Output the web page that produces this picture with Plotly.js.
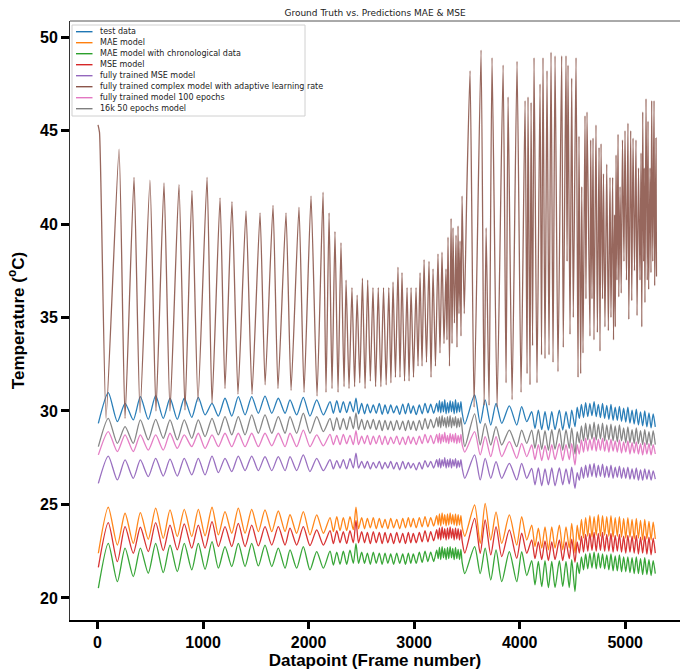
<!DOCTYPE html>
<html>
<head>
<meta charset="utf-8">
<script src="https://cdn.plot.ly/plotly-3.0.1.min.js"></script>
<style>html,body{margin:0;padding:0;background:#fff;}#chart{width:680px;height:670px;}</style>
</head>
<body>
<div id="chart"></div>
<script>
// ---- data ----
const seriesNames = ["test data", "MAE model", "MAE model with chronological data", "MSE model",
  "fully trained MSE model", "fully trained complex model with adaptive learning rate",
  "fully trained model 100 epochs", "16k 50 epochs model"];
const seriesColors = ["#1f77b4", "#ff7f0e", "#2ca02c", "#d62728", "#9467bd", "#8c564b", "#e377c2", "#7f7f7f"];
const xTicks = [0, 1000, 2000, 3000, 4000, 5000];
const yTicks = [20, 25, 30, 35, 40, 45, 50];

// datapoint positions of the key samples shared by the truth-like series
const xTruth = [8, 102, 188, 261, 339, 406, 481, 551, 623, 687, 756, 822, 893, 955, 1019, 1085, 1145, 1208, 1272, 1334, 1398, 1461, 1524, 1587, 1651, 1713, 1777, 1824, 1887, 1950, 2013, 2077, 2140,
  2203, 2235, 2267, 2298, 2329, 2361, 2392, 2424, 2449, 2473, 2503, 2530, 2557, 2585, 2613, 2641, 2670, 2697, 2724, 2751, 2778, 2806, 2835, 2863, 2892, 2918, 2945, 2968, 2992, 3020, 3049, 3076, 3103, 3130, 3157, 3185, 3214,
  3228, 3240, 3252, 3265, 3278, 3290, 3303, 3316, 3328, 3341, 3354, 3366, 3379, 3392, 3404, 3417, 3430, 3443, 3455,
  3480, 3573, 3626, 3673, 3726, 3776, 3830, 3902, 3972, 4019, 4067,
  4114, 4145, 4177, 4209, 4240, 4272, 4304, 4335, 4376, 4408, 4439, 4470, 4493, 4524,
  4545, 4565, 4585, 4605, 4625, 4645, 4665, 4685, 4705, 4725, 4745, 4765, 4785, 4805, 4825, 4845, 4865, 4885, 4905, 4925, 4945, 4965, 4985, 5005, 5025, 5045, 5065, 5085, 5105, 5125, 5145, 5165, 5185, 5205, 5225, 5245, 5265, 5285];

const testData = [29.34, 30.98, 29.43, 30.41, 29.52, 30.77, 29.55, 30.82, 29.6, 30.68, 29.55, 30.68, 29.66, 30.73, 29.79, 30.41, 29.73, 30.68, 29.73, 30.77, 29.79, 30.77, 29.88, 30.8, 29.88, 30.68, 29.88, 30.59, 29.79, 30.73, 29.73, 30.59, 29.79,
  30.5, 29.88, 30.55, 29.91, 30.5, 29.91, 30.5, 29.96, 30.68, 29.85, 30.41, 29.85, 30.37, 29.9, 30.32, 29.88, 30.41, 29.82, 30.32, 29.85, 30.32, 29.9, 30.27, 29.82, 30.37, 29.85, 30.41, 29.88, 30.27, 29.8, 30.32, 29.85, 30.41, 29.9, 30.37, 29.88, 30.41,
  29.95, 30.55, 29.9, 30.5, 29.95, 30.6, 29.85, 30.45, 29.9, 30.55, 29.95, 30.5, 29.85, 30.6, 29.9, 30.45, 29.95, 30.5, 29.9,
  29.3, 30.86, 29.34, 30.59, 29.25, 30.41, 29.34, 30.27, 29.25, 30.23, 29.43,
  29.96, 29.07, 30.05, 29.0, 29.96, 28.98, 29.96, 29.0, 30.05, 28.98, 29.96, 29.07, 30.05, 29.16,
  30.2, 29.6, 30.35, 29.65, 30.45, 29.7, 30.4, 29.75, 30.5, 29.7, 30.35, 29.65, 30.4, 29.6, 30.3, 29.55, 30.35, 29.5, 30.2, 29.5, 30.25, 29.45, 30.15, 29.4, 30.2, 29.35, 30.05, 29.3, 30.1, 29.25, 29.95, 29.2, 30.0, 29.15, 29.9, 29.1, 29.85, 29.15];

const maeModel = [22.39, 24.85, 22.83, 24.53, 22.92, 24.56, 23.14, 24.8, 23.19, 24.71, 23.28, 24.74, 23.28, 24.74, 23.32, 24.85, 23.37, 24.62, 23.46, 24.8, 23.46, 24.74, 23.55, 24.71, 23.55, 24.65, 23.55, 24.45, 23.46, 24.62, 23.37, 24.44, 23.46,
  24.3, 23.55, 24.35, 23.6, 24.3, 23.6, 24.35, 23.65, 24.85, 23.7, 24.3, 23.7, 24.25, 23.75, 24.3, 23.7, 24.25, 23.75, 24.2, 23.7, 24.25, 23.75, 24.2, 23.7, 24.25, 23.75, 24.3, 23.8, 24.25, 23.75, 24.3, 23.8, 24.35, 23.8, 24.3, 23.85, 24.4,
  23.9, 24.5, 23.85, 24.55, 23.95, 24.45, 23.85, 24.5, 23.9, 24.55, 23.95, 24.45, 23.9, 24.5, 23.85, 24.45, 23.9, 24.4, 23.8,
  23.3, 24.97, 22.92, 25.06, 23.1, 24.6, 22.92, 24.44, 22.83, 24.35, 23.1,
  23.9, 22.75, 23.73, 22.66, 23.8, 22.57, 23.8, 22.66, 23.9, 22.57, 23.8, 22.66, 23.99, 22.4,
  23.9, 23.1, 24.2, 23.2, 24.3, 23.3, 24.4, 23.25, 24.35, 23.35, 24.45, 23.3, 24.4, 23.35, 24.35, 23.3, 24.4, 23.25, 24.3, 23.3, 24.35, 23.25, 24.25, 23.2, 24.3, 23.25, 24.2, 23.15, 24.25, 23.2, 24.15, 23.1, 24.2, 23.15, 24.1, 23.1, 24.05, 23.15];

const maeChrono = [20.52, 22.92, 20.87, 22.66, 21.14, 22.66, 21.32, 22.92, 21.35, 22.83, 21.41, 22.92, 21.5, 22.92, 21.53, 23.01, 21.59, 22.75, 21.68, 22.92, 21.68, 22.92, 21.71, 22.83, 21.68, 22.66, 21.59, 22.57, 21.59, 22.75, 21.5, 22.48, 21.59,
  22.5, 21.75, 22.45, 21.8, 22.5, 21.8, 22.55, 21.85, 22.9, 21.85, 22.45, 21.85, 22.4, 21.8, 22.45, 21.85, 22.4, 21.8, 22.4, 21.85, 22.35, 21.8, 22.4, 21.85, 22.35, 21.8, 22.4, 21.85, 22.35, 21.85, 22.45, 21.9, 22.5, 21.95, 22.45, 21.95, 22.55,
  22.1, 22.7, 22.05, 22.75, 22.15, 22.65, 22.05, 22.7, 22.1, 22.75, 22.15, 22.65, 22.05, 22.7, 22.1, 22.6, 22.05, 22.6, 21.9,
  21.3, 22.75, 21.3, 22.66, 20.96, 22.57, 20.87, 22.48, 20.87, 22.48, 21.2,
  22.0, 20.7, 21.95, 20.6, 22.0, 20.55, 21.95, 20.55, 22.0, 20.6, 21.95, 20.55, 22.05, 20.34,
  21.9, 21.3, 22.2, 21.5, 22.35, 21.55, 22.4, 21.6, 22.45, 21.55, 22.4, 21.6, 22.35, 21.55, 22.3, 21.5, 22.35, 21.45, 22.25, 21.45, 22.3, 21.4, 22.2, 21.4, 22.2, 21.35, 22.15, 21.3, 22.2, 21.3, 22.1, 21.25, 22.15, 21.25, 22.05, 21.2, 22.0, 21.3];

const mseModel = [21.64, 24.03, 21.94, 23.81, 22.39, 23.78, 22.48, 24.03, 22.53, 23.9, 22.57, 23.96, 22.66, 23.9, 22.66, 24.08, 22.75, 23.81, 22.75, 23.99, 22.75, 23.9, 22.78, 23.81, 22.83, 23.81, 22.83, 23.73, 22.83, 23.81, 22.8, 23.64, 22.83,
  23.6, 22.9, 23.6, 22.95, 23.55, 22.9, 23.6, 22.95, 24.15, 22.95, 23.55, 22.95, 23.5, 22.9, 23.55, 22.95, 23.5, 22.9, 23.5, 22.95, 23.45, 22.9, 23.5, 22.95, 23.45, 22.9, 23.5, 22.95, 23.45, 22.95, 23.5, 23.0, 23.6, 23.0, 23.55, 23.05, 23.65,
  23.15, 23.75, 23.1, 23.8, 23.2, 23.7, 23.1, 23.75, 23.15, 23.8, 23.2, 23.7, 23.1, 23.75, 23.15, 23.7, 23.1, 23.65, 23.05,
  22.4, 24.26, 22.39, 24.17, 22.3, 23.81, 22.21, 23.64, 22.12, 23.46, 22.39,
  23.1, 22.1, 23.0, 22.05, 23.05, 22.0, 23.0, 22.05, 23.1, 22.0, 23.0, 22.1, 23.15, 21.9,
  23.0, 22.4, 23.3, 22.45, 23.4, 22.5, 23.45, 22.55, 23.5, 22.5, 23.45, 22.55, 23.5, 22.5, 23.4, 22.5, 23.45, 22.45, 23.35, 22.5, 23.4, 22.45, 23.3, 22.4, 23.35, 22.45, 23.3, 22.4, 23.35, 22.35, 23.25, 22.4, 23.3, 22.35, 23.25, 22.3, 23.2, 22.4];

const fullMse = [26.13, 27.59, 26.31, 27.38, 26.4, 27.38, 26.49, 27.47, 26.52, 27.42, 26.52, 27.47, 26.58, 27.47, 26.58, 27.59, 26.7, 27.47, 26.76, 27.59, 26.81, 27.59, 26.81, 27.56, 26.81, 27.56, 26.81, 27.56, 26.81, 27.65, 26.76, 27.47, 26.81,
  27.4, 26.9, 27.35, 26.95, 27.4, 26.9, 27.45, 26.95, 27.75, 26.95, 27.3, 26.95, 27.3, 26.9, 27.25, 26.95, 27.3, 26.9, 27.25, 26.95, 27.3, 26.9, 27.25, 26.85, 27.3, 26.9, 27.25, 26.95, 27.2, 26.85, 27.25, 26.9, 27.35, 27.0, 27.3, 26.95, 27.4,
  27.0, 27.45, 26.95, 27.4, 27.05, 27.5, 26.95, 27.4, 27.0, 27.45, 26.95, 27.4, 27.05, 27.45, 26.95, 27.35, 27.0, 27.4, 26.95,
  26.4, 27.65, 26.31, 27.47, 26.4, 27.29, 26.4, 27.2, 26.31, 27.2, 26.4,
  26.93, 26.05, 26.95, 26.0, 26.9, 26.05, 26.95, 26.0, 26.95, 26.05, 26.9, 26.1, 27.0, 25.86,
  26.7, 26.3, 27.0, 26.4, 27.1, 26.45, 27.15, 26.5, 27.2, 26.45, 27.1, 26.5, 27.15, 26.45, 27.05, 26.45, 27.1, 26.4, 27.0, 26.45, 27.05, 26.4, 26.95, 26.4, 27.0, 26.35, 26.9, 26.35, 26.95, 26.3, 26.85, 26.3, 26.9, 26.35, 26.85, 26.3, 26.8, 26.35];

const epochs100 = [27.65, 28.9, 27.83, 28.72, 27.83, 28.72, 27.91, 28.72, 27.91, 28.81, 28.0, 28.72, 28.09, 28.81, 28.0, 28.72, 28.09, 28.81, 28.09, 28.81, 28.09, 28.81, 28.09, 28.81, 28.13, 28.81, 28.09, 28.81, 28.09, 28.98, 28.09, 28.72, 28.13,
  28.75, 28.2, 28.7, 28.2, 28.75, 28.25, 28.7, 28.2, 28.95, 28.2, 28.65, 28.25, 28.7, 28.2, 28.65, 28.25, 28.7, 28.2, 28.65, 28.2, 28.6, 28.25, 28.65, 28.2, 28.6, 28.2, 28.65, 28.25, 28.6, 28.2, 28.65, 28.25, 28.75, 28.3, 28.7, 28.25, 28.75,
  28.3, 28.8, 28.25, 28.75, 28.35, 28.85, 28.3, 28.7, 28.25, 28.8, 28.35, 28.75, 28.3, 28.8, 28.25, 28.7, 28.3, 28.75, 28.2,
  27.8, 28.9, 27.65, 28.63, 27.56, 28.63, 27.56, 28.36, 27.47, 28.27, 27.56,
  28.18, 27.4, 28.2, 27.35, 28.15, 27.38, 28.2, 27.4, 28.25, 27.35, 28.2, 27.4, 28.25, 27.1,
  28.2, 27.7, 28.45, 27.8, 28.55, 27.85, 28.5, 27.9, 28.6, 27.85, 28.5, 27.9, 28.55, 27.85, 28.45, 27.8, 28.5, 27.85, 28.4, 27.8, 28.45, 27.75, 28.35, 27.8, 28.4, 27.7, 28.3, 27.75, 28.35, 27.7, 28.25, 27.65, 28.3, 27.7, 28.25, 27.65, 28.2, 27.7];

const k16Epochs50 = [28.09, 29.61, 28.27, 29.16, 28.27, 29.52, 28.45, 29.55, 28.54, 29.52, 28.45, 29.52, 28.54, 29.52, 28.63, 29.61, 28.72, 29.7, 28.72, 29.7, 28.72, 29.79, 28.81, 29.79, 28.81, 29.7, 28.81, 29.7, 28.81, 29.88, 28.81, 29.7, 28.9,
  29.6, 28.95, 29.65, 29.0, 29.6, 29.0, 29.7, 29.05, 29.9, 29.0, 29.55, 29.0, 29.5, 29.05, 29.55, 29.0, 29.5, 28.95, 29.5, 29.0, 29.45, 28.95, 29.5, 29.0, 29.45, 28.95, 29.5, 29.0, 29.45, 28.95, 29.5, 29.0, 29.6, 29.05, 29.55, 29.1, 29.65,
  29.15, 29.7, 29.1, 29.75, 29.2, 29.65, 29.1, 29.7, 29.15, 29.75, 29.1, 29.65, 29.2, 29.7, 29.1, 29.6, 29.15, 29.65, 29.05,
  28.1, 29.85, 28.18, 29.34, 28.18, 29.16, 28.18, 28.98, 28.09, 28.98, 28.27,
  28.98, 28.0, 29.0, 27.95, 28.95, 27.9, 29.0, 27.95, 29.05, 27.9, 29.0, 28.0, 29.1, 27.7,
  28.9, 28.3, 29.2, 28.4, 29.35, 28.45, 29.3, 28.5, 29.4, 28.45, 29.3, 28.5, 29.35, 28.4, 29.25, 28.45, 29.3, 28.4, 29.2, 28.35, 29.25, 28.4, 29.1, 28.3, 29.15, 28.3, 29.0, 28.25, 29.1, 28.25, 28.95, 28.2, 29.0, 28.2, 28.9, 28.15, 28.95, 28.2];

// the complex model (brown) has its own sample positions
const xComplex = [5, 19, 81, 204, 261, 346, 403, 497, 554, 630, 687, 772, 829, 895, 952, 1038, 1085, 1161, 1208, 1274, 1331, 1407, 1464, 1540, 1588, 1663, 1710, 1786, 1834, 1909, 1957, 2023, 2080, 2137,
  2165, 2194, 2222, 2250, 2279, 2307, 2336, 2355, 2383, 2411, 2436, 2460, 2485, 2510, 2535, 2560, 2585, 2610, 2635, 2660, 2685, 2710, 2735, 2760, 2780, 2800, 2823, 2847, 2866, 2885, 2909, 2933, 2952, 2971, 2994, 3018, 3037, 3056, 3075, 3094, 3117, 3141, 3160, 3179, 3202, 3226, 3245, 3264, 3283, 3302, 3311, 3321, 3335, 3350, 3359, 3368, 3382, 3397, 3406, 3416, 3425, 3435, 3444, 3454,
  3475, 3500, 3530, 3568, 3634, 3663, 3682, 3710, 3738, 3786, 3843, 3871, 3890, 3928, 3975, 4013, 4051, 4070, 4079, 4098, 4108, 4122, 4136, 4164, 4193, 4207, 4221, 4240, 4259, 4278, 4297, 4316, 4335, 4363, 4398, 4413, 4439, 4449, 4458, 4477, 4493, 4508, 4534,
  4553, 4562, 4578, 4588, 4600, 4619, 4628, 4638, 4666, 4673, 4685, 4695, 4704, 4723, 4736, 4752, 4761, 4771, 4785, 4794, 4808, 4825, 4840, 4856, 4865, 4881, 4889, 4899, 4906, 4913, 4922, 4932, 4939, 4951, 4962, 4974, 4988, 4998, 5012, 5026, 5034, 5052, 5062, 5074, 5088, 5102, 5112, 5126, 5140, 5150, 5157, 5166, 5175, 5180, 5187, 5197, 5209, 5216, 5222, 5235, 5244, 5251, 5261, 5273, 5279, 5292, 5296];
const complexModel = [45.3, 44.9, 29.6, 44.0, 29.6, 42.5, 29.9, 42.35, 30.0, 42.2, 30.0, 42.1, 30.05, 41.8, 30.5, 42.5, 30.4, 41.4, 31.2, 41.2, 30.9, 40.7, 30.9, 40.6, 31.4, 41.0, 31.2, 40.6, 31.1, 40.9, 31.0, 41.5, 30.8, 41.7,
  31.0, 40.6, 31.2, 39.6, 31.0, 39.0, 31.3, 37.0, 31.2, 36.6, 31.3, 36.2, 31.5, 37.1, 31.2, 37.0, 31.6, 36.6, 31.3, 36.6, 31.3, 36.6, 31.4, 36.6, 31.5, 36.9, 31.8, 37.7, 31.8, 37.4, 31.6, 36.6, 31.6, 36.6, 31.8, 36.6, 32.4, 37.4, 32.4, 38.1, 32.6, 38.0, 31.8, 37.6, 32.4, 38.4, 33.1, 38.5, 33.6, 37.6, 33.8, 39.3, 32.4, 40.3, 33.6, 39.8, 34.7, 39.4, 33.4, 39.9, 35.2, 39.1, 34.0, 41.5,
  35.2, 42.0, 48.2, 30.2, 49.3, 30.3, 39.8, 30.3, 48.9, 30.2, 48.5, 31.5, 46.8, 30.6, 48.7, 31.0, 46.6, 32.0, 46.8, 31.4, 46.5, 33.5, 48.9, 31.5, 47.5, 33.0, 48.9, 32.8, 48.2, 33.0, 49.2, 32.6, 49.0, 32.1, 49.0, 33.4, 49.0, 38.0, 48.5, 34.1, 47.8, 35.0, 48.9,
  31.8, 44.7, 32.0, 42.0, 33.1, 45.8, 36.0, 46.0, 34.0, 44.5, 36.0, 44.6, 33.8, 45.3, 34.2, 44.1, 33.2, 44.3, 36.0, 42.7, 34.5, 43.2, 34.3, 42.5, 35.0, 42.5, 33.8, 40.5, 34.5, 43.7, 37.0, 44.8, 36.1, 42.0, 36.3, 44.5, 38.0, 45.0, 37.0, 45.4, 34.9, 45.0, 35.9, 44.6, 37.5, 44.5, 35.1, 43.0, 37.0, 43.8, 34.5, 46.0, 38.0, 43.0, 35.8, 46.7, 37.0, 45.5, 36.5, 43.0, 37.4, 46.6, 38.0, 46.6, 36.7, 44.6, 37.2];

// ---- chart ----
const W = 680, H = 670, ML = 70, MR = 0, MT = 21, MB = 50;
const PW = W - ML - MR, PH = H - MT - MB;
const px = x => (x - ML) / PW;
const py = y => (H - MB - y) / PH;

const seriesX = [xTruth, xTruth, xTruth, xTruth, xTruth, xComplex, xTruth, xTruth];
const seriesY = [testData, maeModel, maeChrono, mseModel, fullMse, complexModel, epochs100, k16Epochs50];

const traces = seriesNames.map((name, i) => ({
  type: 'scatter', mode: 'lines', name: name,
  x: seriesX[i], y: seriesY[i],
  line: i === 5 ? {color: seriesColors[i], width: 1.3, shape: 'spline', smoothing: 0.5}
                : {color: seriesColors[i], width: 1.3, shape: 'spline', smoothing: 0.7},
  opacity: i === 5 ? 0.9 : 0.95,
  showlegend: false, hoverinfo: 'skip'
}));

// matplotlib-style legend drawn from the names/colours
const shapes = [];
const annotations = [];
const legL = 72, legR = 305, legT = 25, legB = 116, row0 = 31.7, rowH = 11.0;
shapes.push({type: 'rect', xref: 'paper', yref: 'paper', x0: px(legL), x1: px(legR), y0: py(legB), y1: py(legT),
  line: {color: '#d0d0d0', width: 1}, fillcolor: 'rgba(255,255,255,0.85)', layer: 'above'});
seriesNames.forEach((name, i) => {
  const yy = row0 + rowH * i;
  shapes.push({type: 'line', xref: 'paper', yref: 'paper', x0: px(76), x1: px(92.5), y0: py(yy), y1: py(yy),
    line: {color: seriesColors[i], width: 1.4}, layer: 'above'});
  annotations.push({xref: 'paper', yref: 'paper', x: px(97.5), y: py(yy), xanchor: 'left', yanchor: 'middle',
    text: name, showarrow: false, font: {family: 'DejaVu Sans', size: 8, color: '#222'}});
});
// thin top frame line
shapes.push({type: 'line', xref: 'paper', yref: 'paper', x0: 0, x1: 1, y0: 1, y1: 1, line: {color: '#555', width: 1}, layer: 'above'});

const layout = {
  width: W, height: H, autosize: false,
  margin: {l: ML, r: MR, t: MT, b: MB, pad: 0},
  paper_bgcolor: '#fff', plot_bgcolor: '#fff',
  showlegend: false, hovermode: false,
  title: {text: 'Ground Truth vs. Predictions MAE & MSE', x: 0.5, xref: 'paper', xanchor: 'center',
    y: (H - 13) / H, yref: 'container', yanchor: 'middle',
    font: {family: 'DejaVu Sans', size: 9, color: '#222'}},
  xaxis: {
    range: [-260.6, 5519], tickvals: xTicks, ticktext: xTicks.map(String),
    ticks: 'outside', ticklen: 7, tickwidth: 3, tickcolor: '#000',
    showline: true, linecolor: '#000', linewidth: 1.5,
    showgrid: false, zeroline: false,
    tickfont: {family: 'Arial, Liberation Sans', size: 16, color: '#000', weight: 'bold'},
    title: {text: 'Datapoint (Frame number)', standoff: 4,
      font: {family: 'Arial, Liberation Sans', size: 17, color: '#000', weight: 'bold'}}
  },
  yaxis: {
    range: [18.82, 50.86], tickvals: yTicks, ticktext: yTicks.map(String),
    ticks: 'outside', ticklen: 8, tickwidth: 3, tickcolor: '#000',
    showline: true, linecolor: '#333', linewidth: 1,
    showgrid: false, zeroline: false,
    tickfont: {family: 'Arial, Liberation Sans', size: 16, color: '#000', weight: 'bold'},
    title: {text: 'Temperature (<sup>o</sup>C)', standoff: 11,
      font: {family: 'Arial, Liberation Sans', size: 17, color: '#000', weight: 'bold'}}
  },
  shapes: shapes,
  annotations: annotations
};

Plotly.newPlot('chart', traces, layout, {staticPlot: true, displayModeBar: false});
</script>
</body>
</html>
